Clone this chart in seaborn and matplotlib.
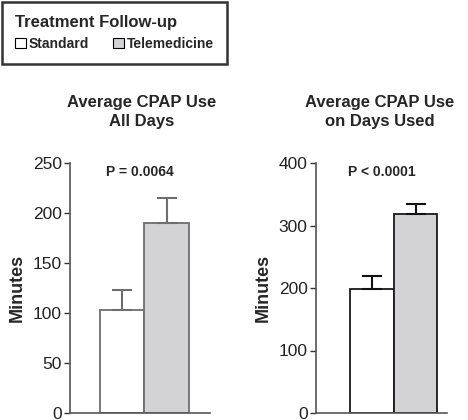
import matplotlib
matplotlib.use("Agg")
import matplotlib.pyplot as plt
import matplotlib.patches as mpatches
import pandas as pd
import seaborn as sns

sns.set_style("ticks")
plt.rcParams["font.family"] = ["Liberation Sans", "DejaVu Sans"]

# data
groups = ["Standard", "Telemedicine"]
all_days_mean = [103, 190]
all_days_err = [20, 25]
used_days_mean = [198, 318]
used_days_err = [22, 17]
panel_titles = ["Average CPAP Use\nAll Days", "Average CPAP Use\non Days Used"]
p_labels = ["P = 0.0064", "P < 0.0001"]
y_ticks = [[0, 50, 100, 150, 200, 250], [0, 100, 200, 300, 400]]
fill_colors = ["#ffffff", "#d3d3d5"]

fig = plt.figure(figsize=(4.68, 4.2), dpi=100)
ax1 = fig.add_axes([70 / 468, 7 / 420, 140 / 468, 250 / 420])
ax2 = fig.add_axes([316 / 468, 7 / 420, 131 / 468, 250 / 420])

panels = [
    (ax1, all_days_mean, all_days_err, "#6e6e6e", "#6e6e6e", (-1.18, 1.98)),
    (ax2, used_days_mean, used_days_err, "#1a1a1a", "#111111", (-1.28, 1.72)),
]

for i, (ax, means, errs, edge, errc, xlim) in enumerate(panels):
    df = pd.DataFrame({"group": groups, "minutes": means})
    sns.barplot(data=df, x="group", y="minutes", hue="group", palette=fill_colors,
                width=1.0, edgecolor=edge, linewidth=1.3, legend=False, ax=ax)
    ax.errorbar(range(len(groups)), means, yerr=[[0] * len(errs), errs], fmt="none",
                ecolor=errc, elinewidth=1.5, capsize=7, capthick=1.5, zorder=1)
    ax.set_xlim(*xlim)
    ax.set_ylim(0, y_ticks[i][-1])
    ax.set_yticks(y_ticks[i])
    ax.set_xticks([])
    ax.set_xlabel("")
    ax.set_ylabel("Minutes", fontsize=13, fontweight="bold", labelpad=5)
    ax.tick_params(axis="y", labelsize=12.5, length=4, width=1, color="#333333",
                   labelcolor="#222222", pad=2)
    for s in ["top", "right"]:
        ax.spines[s].set_visible(False)
    for s in ["left", "bottom"]:
        ax.spines[s].set_color("#555555")
        ax.spines[s].set_linewidth(1.2)
    ax.text(0.5, 0.965, p_labels[i], transform=ax.transAxes, ha="center", va="center",
            fontsize=10, fontweight="bold")

fig.text(142 / 468, 1 - 112 / 420, panel_titles[0], ha="center", va="center",
         fontsize=12, fontweight="bold", linespacing=1.35)
fig.text(380 / 468, 1 - 112 / 420, panel_titles[1], ha="center", va="center",
         fontsize=12, fontweight="bold", linespacing=1.35)

handles = [mpatches.Patch(facecolor=c, edgecolor="black", linewidth=0.8) for c in fill_colors]
leg = fig.legend(handles, groups, title="Treatment Follow-up", loc="upper left",
                 bbox_to_anchor=(1.5 / 468, 1 - 1.5 / 420), borderaxespad=0,
                 ncol=2, frameon=True, fancybox=False,
                 prop={"weight": "bold", "size": 10},
                 title_fontproperties={"weight": "bold", "size": 12},
                 handlelength=0.8, handleheight=0.8, handletextpad=0.2,
                 columnspacing=1.7, borderpad=0.95, alignment="left")
leg.get_frame().set_edgecolor("black")
leg.get_frame().set_linewidth(1.8)

fig.savefig("out.png", dpi=100, facecolor="white")
